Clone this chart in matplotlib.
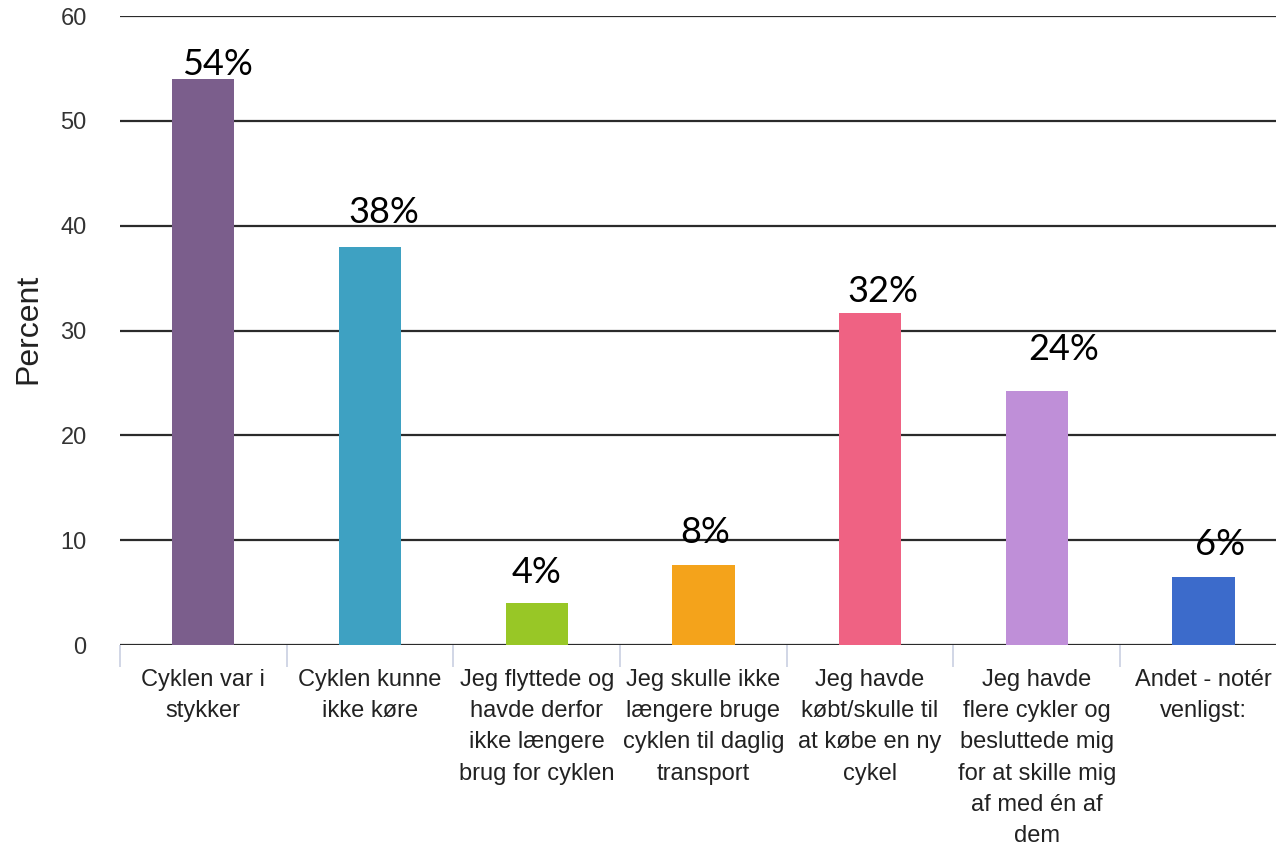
import matplotlib
matplotlib.use("Agg")
import matplotlib.pyplot as plt
import numpy as np

categories = [
    "Cyklen var i\nstykker",
    "Cyklen kunne\nikke køre",
    "Jeg flyttede og\nhavde derfor\nikke længere\nbrug for cyklen",
    "Jeg skulle ikke\nlængere bruge\ncyklen til daglig\ntransport",
    "Jeg havde\nkøbt/skulle til\nat købe en ny\ncykel",
    "Jeg havde\nflere cykler og\nbesluttede mig\nfor at skille mig\naf med én af\ndem",
    "Andet - notér\nvenligst:",
]
values = [54.0, 38.0, 4.0, 7.6, 31.7, 24.2, 6.5]
value_labels = ["54%", "38%", "4%", "8%", "32%", "24%", "6%"]
colors = ["#7b5e8c", "#3ea1c2", "#98c726", "#f4a31b", "#ef6283", "#bf8fd8", "#3c6bcb"]
yticks = [0, 10, 20, 30, 40, 50, 60]

# label placement (offset from bar centre, y in data units)
label_dx = [0.085, 0.084, 0.0, 0.012, 0.078, 0.16, 0.10]
label_y = [55.4, 41.3, 6.9, 10.7, 33.7, 28.2, 9.6]

fig = plt.figure(figsize=(12.76, 8.44), dpi=100)
ax = fig.add_axes([120/1276, 1-645/844, 1-120/1276, (645-16)/844])

x = np.arange(len(categories))
ax.bar(x, values, width=0.373, color=colors, zorder=3)

ax.set_yticks(yticks)
ax.yaxis.grid(True, color="#2b2b2b", linewidth=1.6, zorder=0)
ax.set_axisbelow(True)
for s in ax.spines.values():
    s.set_visible(False)

ax.tick_params(axis="y", length=0, pad=24, labelsize=17, labelcolor="#333333")
for t in ax.get_yticklabels():
    t.set_fontfamily("Liberation Sans")

ax.set_xticks(x)
ax.set_xticklabels(categories, fontsize=17, fontfamily="Liberation Sans",
                   color="#222222", linespacing=1.55)
ax.tick_params(axis="x", which="major", length=0, pad=17)
ax.set_xticks(np.arange(-0.5, 6.0, 1.0), minor=True)
ax.tick_params(axis="x", which="minor", length=16, width=1.2, color="#c9d0e2")

ax.set_ylim(0, 60)
ax.set_xlim(-0.5, 6.435)

fig.text(28/1276, 1-329/844, "Percent", rotation=90, ha="center", va="center",
         fontsize=23, fontfamily="Liberation Sans", color="#222222")

for i, lab in enumerate(value_labels):
    ax.text(x[i] + label_dx[i], label_y[i], lab, ha="center", va="center",
            fontsize=26, fontfamily="Lato", color="#000000", zorder=4)

fig.savefig("out.png", dpi=100, facecolor="white")
